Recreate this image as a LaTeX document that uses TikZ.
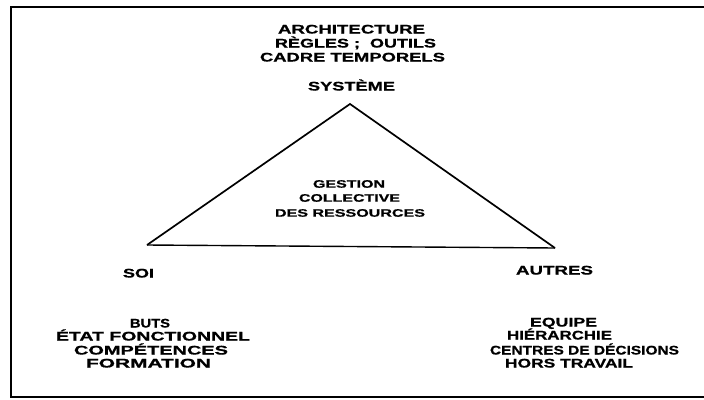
\documentclass[tikz,border=0pt]{standalone}
\usepackage{fontspec}
\setmainfont{Liberation Sans}[BoldFeatures={FakeBold=0.8}]
\usepackage{graphicx}
\newcommand\fitw[2]{\resizebox{#1pt}{\height}{#2}}
\begin{document}
\begin{tikzpicture}[x=1pt,y=1pt,
  big/.style={anchor=base,inner sep=0pt,font=\fontsize{12.5}{14}\selectfont\bfseries},
  mid/.style={anchor=base,inner sep=0pt,font=\fontsize{10.8}{13}\selectfont\bfseries},
  frame/.style={line width=2pt},
  tri/.style={line width=1.7pt,line join=miter}]
\useasboundingbox (0,0) rectangle (704,-399);
% frame (open on the right)
\coordinate (ftr) at (704,-7);
\coordinate (ftl) at (11,-7);
\coordinate (fbl) at (11,-397);
\coordinate (fbr) at (704,-397);
\draw[frame] (ftr) -- (ftl) -- (fbl) -- (fbr);
% triangle
\coordinate (apex) at (350,-104);
\coordinate (left) at (147,-245);
\coordinate (right) at (555,-248);
\draw[tri] (left) -- (apex) -- (right);
\draw[line width=1.4pt] (left) -- (right);
% top texts
\node[big] (t1) at (351.5,-33.5) {\fitw{147}{ARCHITECTURE}};
\node[big] (t2) at (355.5,-47.5) {\fitw{161}{RÈGLES ;\ \ OUTILS}};
\node[big] (t3) at (352.5,-61.5) {\fitw{185}{CADRE TEMPORELS}};
\node[big] (sys) at (351.5,-90.5) {\fitw{87}{SYSTÈME}};
% middle
\node[mid] (m1) at (349,-187.7) {\fitw{72}{GESTION}};
\node[mid] (m2) at (349.5,-201.7) {\fitw{101}{COLLECTIVE}};
\node[mid] (m3) at (350,-216.7) {\fitw{150}{DES RESSOURCES}};
% corners
\node[big] (soi) at (138.5,-277.5) {\fitw{31}{SOI}};
\node[big] (autres) at (554.5,-274.5) {\fitw{77}{AUTRES}};
% left block
\node[big] (l1) at (150,-327.5) {\fitw{40}{BUTS}};
\node[big] (l2) at (153,-340.5) {\fitw{194}{ÉTAT FONCTIONNEL}};
\node[big] (l3) at (151,-354.5) {\fitw{154}{COMPÉTENCES}};
\node[big] (l4) at (148.5,-367.5) {\fitw{125}{FORMATION}};
% right block
\node[big] (r1) at (563.5,-326.5) {\fitw{67}{EQUIPE}};
\node[big] (r2) at (559.5,-339.5) {\fitw{105}{HIÉRARCHIE}};
\node[big] (r3) at (584.5,-354.5) {\fitw{189}{CENTRES DE DÉCISIONS}};
\node[big] (r4) at (569,-367.5) {\fitw{128}{HORS TRAVAIL}};
\end{tikzpicture}
\end{document}
